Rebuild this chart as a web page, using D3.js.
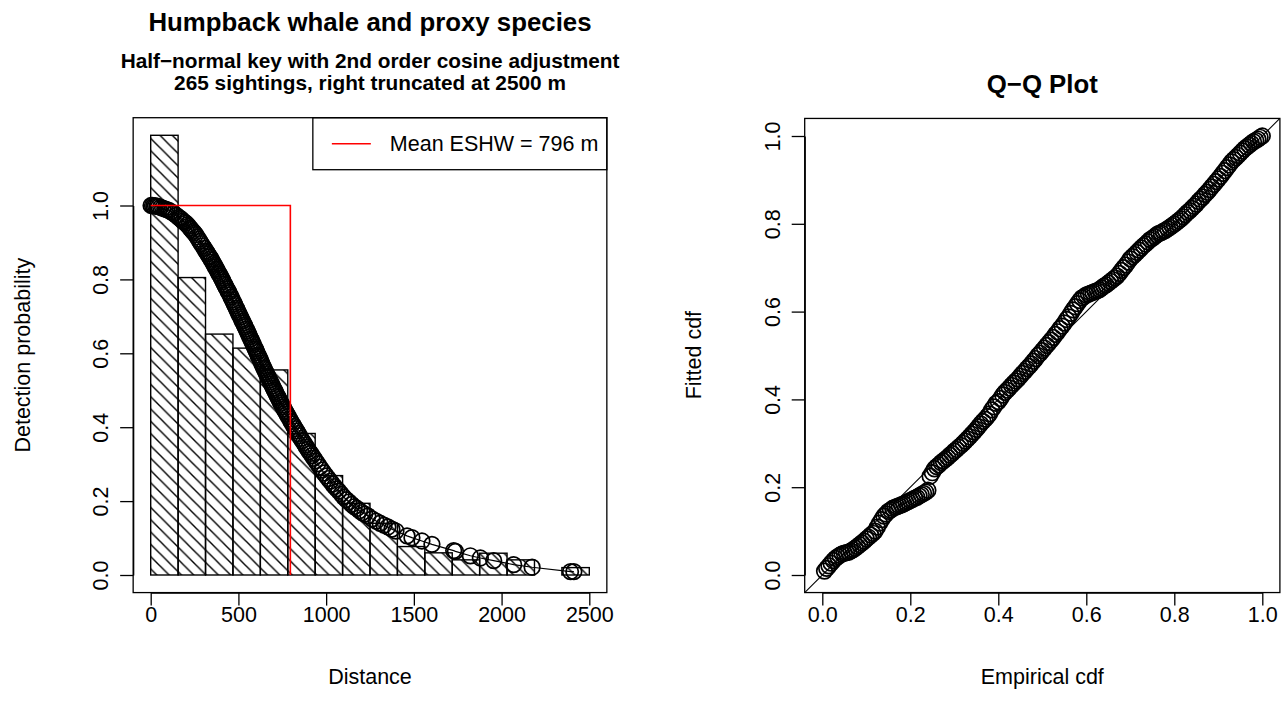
<!DOCTYPE html>
<html>
<head>
<meta charset="utf-8">
<script src="https://cdn.jsdelivr.net/npm/d3@7"></script>
<style>
  body { margin: 0; background: #fff; }
  text { font-family: "Liberation Sans", Arial, Helvetica, sans-serif; fill: #000; }
</style>
</head>
<body>
<svg id="chart" width="1288" height="721"></svg>
<script>
// ---- data ----
const binEdges = [0, 156.25, 312.5, 468.75, 625, 781.25, 937.5, 1093.75, 1250,
  1406.25, 1562.5, 1718.75, 1875, 2031.25, 2187.5, 2343.75, 2500];
const binHeights = [1.19, 0.805, 0.652, 0.614, 0.555, 0.383, 0.269, 0.194, 0.14,
  0.077, 0.060, 0.041, 0.059, 0.041, 0, 0.020];
const eshw = 796;

// observed distances and fitted detection probability at each
const obsDist = [
  2, 10, 18, 27, 36, 46, 57, 68, 80, 92, 104, 117, 131, 146,
  160, 168, 176, 184, 192, 200, 208, 216, 224, 232, 240, 248, 256, 264, 272, 280, 288, 296, 306,
  314, 320, 325, 331, 336, 342, 347, 353, 358, 364, 369, 375, 380, 386, 391, 397, 402, 408, 413, 419, 424, 430, 435, 441, 446, 452, 458, 465,
  471, 476, 481, 487, 492, 497, 502, 507, 512, 518, 523, 528, 533, 538, 544, 549, 554, 559, 564, 570, 575, 580, 585, 591, 596, 601, 606, 612, 617, 622,
  627, 633, 638, 644, 649, 655, 660, 666, 671, 677, 682, 688, 693, 699, 704, 710, 715, 721, 726, 732, 737, 743, 748, 754, 759, 765, 770, 777,
  784, 792, 800, 808, 816, 824, 832, 840, 848, 856, 864, 872, 880, 888, 896, 904, 912, 920, 930,
  940, 952, 964, 976, 988, 1000, 1012, 1024, 1036, 1048, 1060, 1072, 1086,
  1100, 1115, 1130, 1145, 1160, 1175, 1190, 1205, 1220, 1238,
  1262, 1285, 1308, 1330, 1352, 1375, 1398,
  1461, 1489, 1546, 1603, 1727, 1737, 1822, 1879, 1955, 2069, 2174, 2393, 2412
];
const obsDetect = [
  1.000, 1.000, 0.999, 0.999, 0.998, 0.997, 0.995, 0.993, 0.991, 0.989, 0.987, 0.983, 0.979, 0.973,
  .968, .965, .962, .958, .955, .952, .948, .944, .939, .935, .930, .926, .921, .915, .909, .903, .897, .891, .884,
  .877, .873, .869, .864, .861, .856, .852, .847, .843, .838, .833, .828, .824, .818, .814, .809, .804, .799, .794, .788, .784, .778, .774, .768, .764, .758, .752, .745,
  .739, .734, .729, .723, .718, .713, .708, .703, .698, .692, .687, .682, .677, .672, .666, .661, .656, .651, .645, .639, .634, .629, .624, .617, .612, .607, .602, .595, .590, .585,
  .579, .573, .567, .561, .556, .550, .545, .539, .534, .528, .523, .517, .512, .506, .501, .496, .491, .485, .481, .475, .470, .465, .460, .455, .450, .445, .441, .435,
  .429, .422, .415, .409, .402, .396, .390, .383, .377, .370, .364, .358, .352, .346, .340, .334, .329, .323, .316,
  .309, .301, .292, .284, .276, .268, .261, .254, .246, .239, .233, .227, .219,
  .211, .204, .198, .191, .185, .180, .174, .169, .165, .160,
  .152, .146, .140, .135, .130, .124, .119,
  .106, .101, .092, .083, .066, .064, .052, .046, .039, .028, .021, .009, .009
];

// Q-Q plot: empirical cdf vs fitted cdf
const qqEmpirical = [
  .005, .010, .015, .020, .025, .030, .035, .040, .045, .050, .055, .060, .065, .070, .075, .080, .085, .090, .095, .100,
  .105, .110, .115, .120, .125, .130, .135, .140, .145, .150, .155, .160, .165, .170, .175, .180, .185, .190, .195, .200,
  .205, .210, .215, .220, .225, .230, .235, .240, .245, .250, .255, .260, .265, .270, .275, .280, .285, .290, .295, .300,
  .305, .310, .315, .320, .325, .330, .335, .340, .345, .350, .355, .360, .365, .370, .375, .380, .385, .390, .395, .400,
  .405, .410, .415, .420, .425, .430, .435, .440, .445, .450, .455, .460, .465, .470, .475, .480, .485, .490, .495, .500,
  .505, .510, .515, .520, .525, .530, .535, .540, .545, .550, .555, .560, .565, .570, .575, .580, .585, .590, .595, .600,
  .605, .610, .615, .620, .625, .630, .635, .640, .645, .650, .655, .660, .665, .670, .675, .680, .685, .690, .695, .700,
  .705, .710, .715, .720, .725, .730, .735, .740, .745, .750, .755, .760, .765, .770, .775, .780, .785, .790, .795, .800,
  .805, .810, .815, .820, .825, .830, .835, .840, .845, .850, .855, .860, .865, .870, .875, .880, .885, .890, .895, .900,
  .905, .910, .915, .920, .925, .930, .935, .940, .945, .950, .955, .960, .965, .970, .975, .980, .985, .990, .995, 1.000
];
const qqFitted = [
  .009, .015, .021, .027, .033, .038, .042, .045, .048, .050, .051, .052, .055, .058, .061, .065, .069, .073, .077, .082,
  .086, .091, .095, .100, .109, .118, .126, .134, .139, .145, .148, .152, .154, .156, .158, .160, .162, .165, .167, .170,
  .172, .175, .177, .180, .183, .186, .189, .193, .225, .233, .242, .247, .251, .256, .260, .264, .268, .273, .277, .282,
  .286, .291, .295, .300, .305, .310, .315, .321, .326, .332, .338, .344, .350, .355, .361, .367, .376, .383, .391, .395,
  .402, .410, .416, .421, .426, .432, .437, .442, .447, .453, .459, .464, .470, .475, .481, .487, .493, .500, .505, .511,
  .517, .523, .529, .535, .541, .548, .554, .561, .567, .574, .582, .588, .596, .604, .611, .618, .625, .631, .634, .638,
  .640, .642, .644, .646, .648, .650, .654, .658, .661, .665, .669, .673, .677, .681, .687, .694, .700, .706, .713, .720,
  .725, .730, .735, .740, .745, .750, .754, .759, .764, .767, .771, .775, .778, .780, .783, .785, .789, .792, .796, .799,
  .803, .807, .811, .816, .821, .826, .830, .835, .840, .845, .851, .856, .861, .867, .872, .878, .884, .890, .896, .902,
  .908, .915, .921, .928, .934, .941, .946, .951, .956, .961, .966, .971, .975, .979, .983, .987, .990, .993, .997, 1.000
];

const distTicks = [0, 500, 1000, 1500, 2000, 2500];
const probTicks = [0, 0.2, 0.4, 0.6, 0.8, 1.0];

// ---- layout ----
const svg = d3.select('#chart');
const FONT = 21.5;
const R = 7.8;
const PT_STROKE = 1.7;

const xDist = d3.scaleLinear().domain([0, 2500]).range([150.7, 589.3]);
const yDet = d3.scaleLinear().domain([0, 1]).range([575, 205.5]);
const xEmp = d3.scaleLinear().domain([0, 1]).range([822.3, 1262.3]);
const yFit = d3.scaleLinear().domain([0, 1]).range([575, 136]);

const leftBox = { x0: xDist(-100), x1: xDist(2600), y0: yDet(1.2376), y1: yDet(-0.0476) };
const rightBox = { x0: xEmp(-0.04), x1: xEmp(1.04), y0: yFit(1.04), y1: yFit(-0.04) };

// hatch pattern like R's density shading
const defs = svg.append('defs');
const hatch = defs.append('pattern')
  .attr('id', 'hatch')
  .attr('patternUnits', 'userSpaceOnUse')
  .attr('width', 12.3).attr('height', 12.3);
hatch.append('path')
  .attr('d', 'M-1,-1 L13.3,13.3 M-1,11.3 L1,13.3 M11.3,-1 L13.3,1')
  .attr('stroke', 'black').attr('stroke-width', 1.4).attr('fill', 'none');

defs.append('clipPath').attr('id', 'rightClip')
  .append('rect')
  .attr('x', rightBox.x0).attr('y', rightBox.y0)
  .attr('width', rightBox.x1 - rightBox.x0).attr('height', rightBox.y1 - rightBox.y0);

// ---- left panel: histogram ----
const bins = binHeights.map((h, i) => ({ x0: binEdges[i], x1: binEdges[i + 1], h }));
svg.append('g').selectAll('rect')
  .data(bins)
  .enter()
  .append('rect')
  .attr('x', d => xDist(d.x0))
  .attr('y', d => yDet(d.h))
  .attr('width', d => xDist(d.x1) - xDist(d.x0))
  .attr('height', d => yDet(0) - yDet(d.h))
  .attr('fill', 'url(#hatch)')
  .attr('stroke', 'black')
  .attr('stroke-width', 1.4);

// fitted detection function at each observation
const detPts = d3.zip(obsDist, obsDetect);
svg.append('path')
  .datum(detPts)
  .attr('fill', 'none')
  .attr('stroke', 'black')
  .attr('stroke-width', 1.2)
  .attr('d', d3.line().x(d => xDist(d[0])).y(d => yDet(d[1])));

svg.append('g').selectAll('circle')
  .data(detPts)
  .enter()
  .append('circle')
  .attr('cx', d => xDist(d[0]))
  .attr('cy', d => yDet(d[1]))
  .attr('r', R)
  .attr('fill', 'none')
  .attr('stroke', 'black')
  .attr('stroke-width', PT_STROKE);

// mean ESHW rectangle
svg.append('path')
  .attr('d', `M${xDist(0)},${yDet(1)} H${xDist(eshw)} V${yDet(0)}`)
  .attr('fill', 'none')
  .attr('stroke', '#ff0000')
  .attr('stroke-width', 1.6);

// legend
const legW = 294, legH = 52;
const leg = svg.append('g').attr('transform', `translate(${leftBox.x1 - legW},${leftBox.y0})`);
leg.append('rect').attr('width', legW).attr('height', legH)
  .attr('fill', 'white').attr('stroke', 'black').attr('stroke-width', 1.3);
leg.append('line').attr('x1', 19).attr('x2', 58).attr('y1', 26).attr('y2', 26)
  .attr('stroke', '#ff0000').attr('stroke-width', 1.6);
leg.append('text').attr('x', 77).attr('y', 33.5).style('font-size', FONT + 'px')
  .text('Mean ESHW = ' + eshw + ' m');

// ---- right panel: Q-Q ----
svg.append('line')
  .attr('clip-path', 'url(#rightClip)')
  .attr('x1', xEmp(-0.04)).attr('y1', yFit(-0.04))
  .attr('x2', xEmp(1.04)).attr('y2', yFit(1.04))
  .attr('stroke', 'black').attr('stroke-width', 1.1);

svg.append('g').selectAll('circle')
  .data(d3.zip(qqEmpirical, qqFitted))
  .enter()
  .append('circle')
  .attr('cx', d => xEmp(d[0]))
  .attr('cy', d => yFit(d[1]))
  .attr('r', R)
  .attr('fill', 'none')
  .attr('stroke', 'black')
  .attr('stroke-width', PT_STROKE);

// ---- boxes and axes ----
[leftBox, rightBox].forEach(b => {
  svg.append('rect')
    .attr('x', b.x0).attr('y', b.y0)
    .attr('width', b.x1 - b.x0).attr('height', b.y1 - b.y0)
    .attr('fill', 'none').attr('stroke', 'black').attr('stroke-width', 1.3);
});

function bottomAxis(scale, ticks, fmt, yPos) {
  const g = svg.append('g')
    .attr('transform', `translate(0,${yPos})`)
    .call(d3.axisBottom(scale).tickValues(ticks).tickFormat(fmt).tickSize(13).tickSizeOuter(0));
  g.attr('font-family', null).attr('font-size', null);
  g.select('.domain').attr('stroke-width', 1.3);
  g.selectAll('.tick line').attr('stroke-width', 1.3);
  g.selectAll('.tick text')
    .attr('y', 29).attr('dy', 0)
    .style('font-size', FONT + 'px');
}

function leftAxis(scale, ticks, fmt, xPos) {
  const g = svg.append('g')
    .attr('transform', `translate(${xPos},0)`)
    .call(d3.axisLeft(scale).tickValues(ticks).tickFormat(fmt).tickSize(13).tickSizeOuter(0));
  g.attr('font-family', null).attr('font-size', null);
  g.select('.domain').attr('stroke-width', 1.3);
  g.selectAll('.tick line').attr('stroke-width', 1.3);
  g.selectAll('.tick text')
    .attr('x', 0).attr('dy', 0)
    .attr('text-anchor', 'middle')
    .attr('transform', 'translate(-25,0) rotate(-90)')
    .style('font-size', FONT + 'px');
}

const f1 = d3.format('.1f');
bottomAxis(xDist, distTicks, d3.format('d'), leftBox.y1);
leftAxis(yDet, probTicks, f1, leftBox.x0);
bottomAxis(xEmp, probTicks, f1, rightBox.y1);
leftAxis(yFit, probTicks, f1, rightBox.x0);

// ---- titles and labels ----
const leftMid = (leftBox.x0 + leftBox.x1) / 2;
const rightMid = (rightBox.x0 + rightBox.x1) / 2;
const plotMidY = (leftBox.y0 + leftBox.y1) / 2;

function label(x, y, txt, size, bold, rotate) {
  const t = svg.append('text')
    .attr('text-anchor', 'middle')
    .style('font-size', size + 'px')
    .style('font-weight', bold ? 'bold' : 'normal')
    .text(txt);
  if (rotate) t.attr('transform', `translate(${x},${y}) rotate(-90)`);
  else t.attr('x', x).attr('y', y);
}

label(leftMid, 31, 'Humpback whale and proxy species', FONT * 1.2, true);
label(leftMid, 68, 'Half\u2212normal key with 2nd order cosine adjustment', 20.8, true);
label(leftMid, 90, '265 sightings, right truncated at 2500 m', 20.8, true);
label(rightMid, 93, 'Q\u2212Q Plot', FONT * 1.2, true);

label(leftMid, 684, 'Distance', FONT, false);
label(rightMid, 684, 'Empirical cdf', FONT, false);
label(30, plotMidY, 'Detection probability', FONT, false, true);
label(701, plotMidY, 'Fitted cdf', FONT, false, true);
</script>
</body>
</html>
